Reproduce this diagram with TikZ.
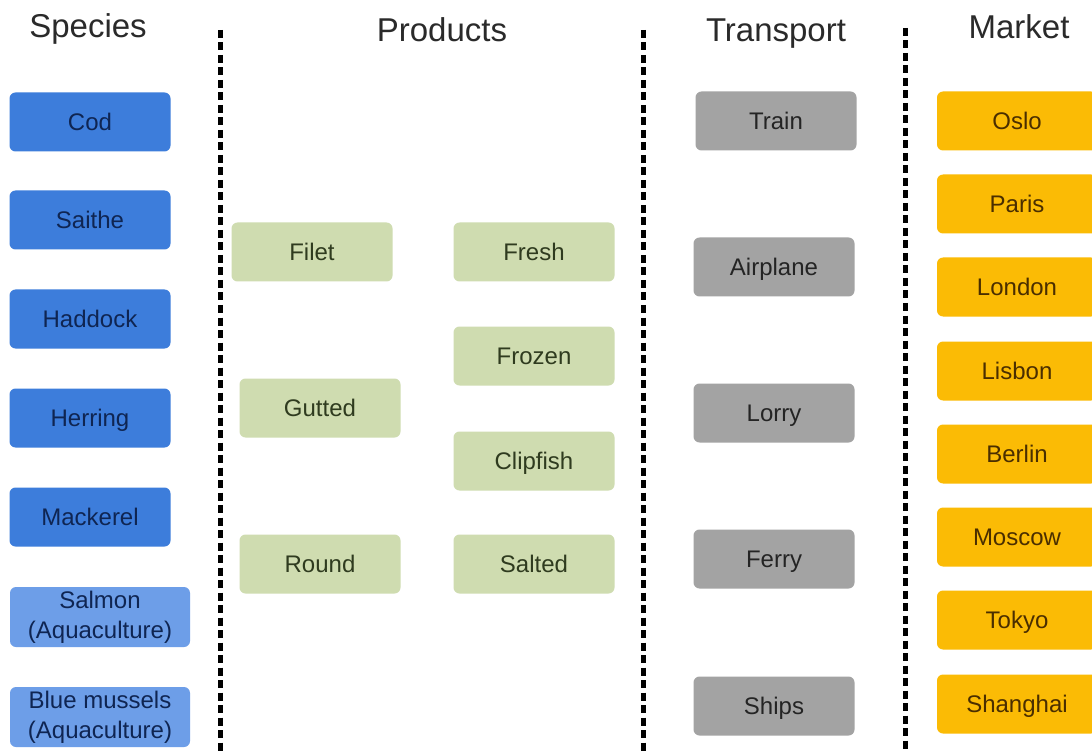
\documentclass[tikz,border=0pt]{standalone}
\usepackage{fontspec}
\setmainfont{Liberation Sans}
\definecolor{spblue}{HTML}{3D7DDB}
\definecolor{spltblue}{HTML}{6D9EE8}
\definecolor{sptext}{HTML}{0F2552}
\definecolor{prgreen}{HTML}{CFDCB0}
\definecolor{prtext}{HTML}{2F3B1F}
\definecolor{trgray}{HTML}{A3A3A3}
\definecolor{trtext}{HTML}{242424}
\definecolor{mkyellow}{HTML}{FBBB05}
\definecolor{mktext}{HTML}{4A2E00}
\definecolor{titletext}{HTML}{2A2A2A}
\tikzset{
  boxbase/.style={rounded corners=6pt, inner sep=0pt, draw=none,
    minimum width=161pt, minimum height=59pt,
    font=\fontsize{24}{30}\selectfont},
  oneline/.style={boxbase, text height=17pt, text depth=0pt},
  spbox/.style={oneline, fill=spblue, text=sptext},
  aqbox/.style={boxbase, fill=spltblue, text=sptext, align=center, minimum width=180pt, minimum height=60pt},
  prbox/.style={oneline, fill=prgreen, text=prtext},
  trbox/.style={oneline, fill=trgray, text=trtext},
  mkbox/.style={oneline, fill=mkyellow, text=mktext, minimum width=160pt},
  coltitle/.style={anchor=base, inner sep=0pt, text=titletext, font=\fontsize{33}{36}\selectfont},
  divider/.style={line width=5pt, dash pattern=on 8pt off 4.5pt, black}
}
\begin{document}
\begin{tikzpicture}[x=1pt,y=-1pt]
\clip (0,0) rectangle (1092,751);
\fill[white] (0,0) rectangle (1092,751);
% titles
\node[coltitle] (tsp) at (88,38) {Species};
\node[coltitle] (tpr) at (442,42) {Products};
\node[coltitle] (ttr) at (776,42) {Transport};
\node[coltitle] (tmk) at (1019,39) {Market};
% dividers
\coordinate (d1a) at (220,30); \coordinate (d1b) at (220,760);
\coordinate (d2a) at (643,30); \coordinate (d2b) at (643,760);
\coordinate (d3a) at (905,28); \coordinate (d3b) at (905,760);
\draw[divider] (d1a) -- (d1b);
\draw[divider] (d2a) -- (d2b);
\draw[divider] (d3a) -- (d3b);
% species
\node[spbox] (cod) at (90,122) {Cod};
\node[spbox] (saithe) at (90,220) {Saithe};
\node[spbox] (haddock) at (90,319) {Haddock};
\node[spbox] (herring) at (90,418) {Herring};
\node[spbox] (mackerel) at (90,517) {Mackerel};
\node[aqbox] (salmon) at (100,617) {Salmon\\(Aquaculture)};
\node[aqbox] (mussels) at (100,717) {Blue mussels\\(Aquaculture)};
% products
\node[prbox] (filet) at (312,252) {Filet};
\node[prbox] (gutted) at (320,408) {Gutted};
\node[prbox] (round) at (320,564) {Round};
\node[prbox] (fresh) at (534,252) {Fresh};
\node[prbox] (frozen) at (534,356) {Frozen};
\node[prbox] (clipfish) at (534,461) {Clipfish};
\node[prbox] (salted) at (534,564) {Salted};
% transport
\node[trbox] (train) at (776,121) {Train};
\node[trbox] (airplane) at (774,267) {Airplane};
\node[trbox] (lorry) at (774,413) {Lorry};
\node[trbox] (ferry) at (774,559) {Ferry};
\node[trbox] (ships) at (774,706) {Ships};
% market
\node[mkbox] (oslo) at (1017,121) {Oslo};
\node[mkbox] (paris) at (1017,204) {Paris};
\node[mkbox] (london) at (1017,287) {London};
\node[mkbox] (lisbon) at (1017,371) {Lisbon};
\node[mkbox] (berlin) at (1017,454) {Berlin};
\node[mkbox] (moscow) at (1017,537) {Moscow};
\node[mkbox] (tokyo) at (1017,620) {Tokyo};
\node[mkbox] (shanghai) at (1017,704) {Shanghai};
\end{tikzpicture}
\end{document}
